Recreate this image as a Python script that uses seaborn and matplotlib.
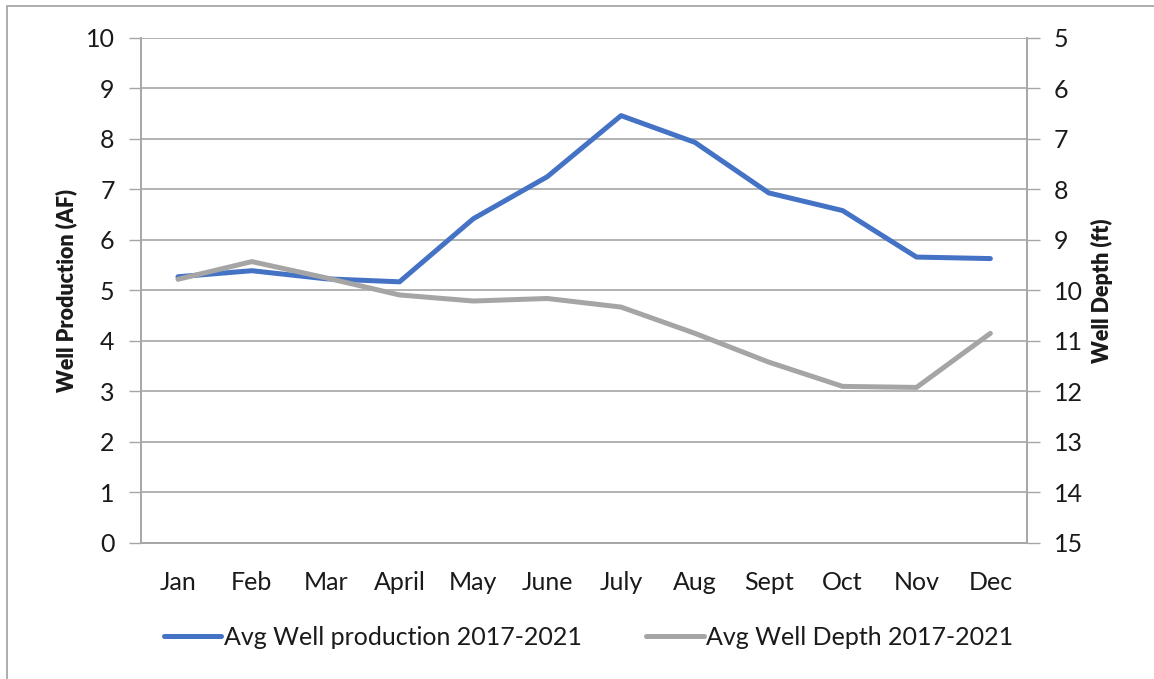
import pandas as pd
import matplotlib
matplotlib.use("Agg")
import matplotlib.pyplot as plt
from matplotlib.patches import Rectangle
from matplotlib.ticker import FixedLocator
import seaborn as sns

months = ["Jan", "Feb", "Mar", "April", "May", "June", "July", "Aug", "Sept", "Oct", "Nov", "Dec"]
production = [5.27, 5.39, 5.23, 5.17, 6.42, 7.25, 8.46, 7.93, 6.93, 6.58, 5.66, 5.63]
depth = [9.78, 9.43, 9.75, 10.09, 10.21, 10.16, 10.33, 10.85, 11.42, 11.90, 11.92, 10.85]

sns.set_style("white")
plt.rcParams["font.family"] = ["Lato", "DejaVu Sans"]

BLUE = "#4472C4"
GRAY = "#A5A5A5"
GRID = "#A6A6A6"
TXT = "#1a1a1a"

df = pd.DataFrame({"month": months, "production": production, "depth": depth})
df["pos"] = range(len(months))

fig = plt.figure(figsize=(11.54, 6.79), dpi=100)
ax = fig.add_axes([0.1222, 0.2003, 0.768, 0.744])
ax2 = ax.twinx()

sns.lineplot(data=df, x="pos", y="production", ax=ax, color=BLUE, linewidth=3.6,
             label="Avg Well production 2017-2021", legend=False)
sns.lineplot(data=df, x="pos", y="depth", ax=ax2, color=GRAY, linewidth=3.6,
             label="Avg Well Depth 2017-2021", legend=False)

ax.set_xlim(-0.5, len(months) - 0.5)
ax.set_ylim(0, 10)
ax.set_yticks(range(0, 11))
ax2.set_ylim(15, 5)
ax2.set_yticks(range(5, 16))

ax.set_xticks(df["pos"])
ax.set_xticklabels(months)
ax.xaxis.set_minor_locator(FixedLocator([i - 0.5 for i in range(len(months) + 1)]))
ax.tick_params(axis="x", which="major", length=0, pad=20, labelsize=18, labelcolor=TXT)
ax.tick_params(axis="x", which="minor", length=8, width=1, color=GRID, direction="out")
ax.tick_params(axis="y", length=9, width=1, color=GRID, direction="out", labelsize=18,
               labelcolor=TXT, pad=10)
ax2.tick_params(axis="y", length=9, width=1, color=GRID, direction="out", labelsize=18,
                labelcolor=TXT, pad=10)

ax.grid(axis="y", color=GRID, linewidth=1.2)
ax.set_xlabel("")
ax.set_ylabel("Well Production (AF)", fontsize=15.5, fontweight="heavy", labelpad=6, color=TXT)
ax2.set_ylabel("Well Depth (ft)", fontsize=15.5, fontweight="heavy", labelpad=6, color=TXT)

for a in (ax, ax2):
    a.spines["top"].set_visible(False)
    for s in ("left", "right", "bottom"):
        a.spines[s].set_color(GRID)
        a.spines[s].set_linewidth(1.2)

h1, l1 = ax.get_legend_handles_labels()
h2, l2 = ax2.get_legend_handles_labels()
fig.legend(h1 + h2, l1 + l2, loc="center", bbox_to_anchor=(0.51, 0.061), ncol=2,
           frameon=False, fontsize=18, handlelength=2.3, handletextpad=0.1, columnspacing=2.6,
           labelcolor=TXT)

fig.patches.append(Rectangle((0.006, -0.01), 1.0, 1.0012, transform=fig.transFigure,
                             fill=False, edgecolor="#A0A0A0", linewidth=1.2))

fig.savefig("out.png", dpi=100)
